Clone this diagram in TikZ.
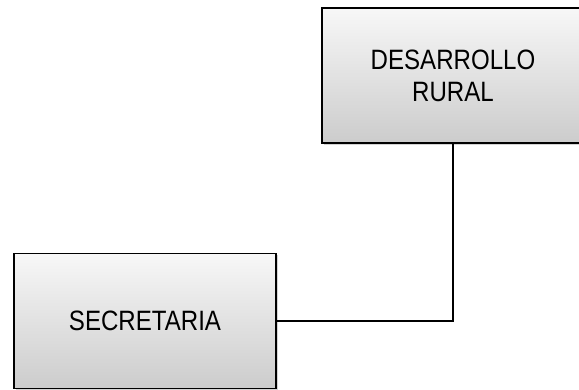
\documentclass[tikz,border=0pt]{standalone}
\usepackage{fontspec}
\setmainfont[FakeStretch=0.86]{Liberation Sans}
\usetikzlibrary{shadows}

\begin{document}
\begin{tikzpicture}[x=1pt, y=-1pt, unitbox/.style={rectangle, draw=black, line width=1.3pt, top color=gray!6, bottom color=gray!40, minimum width=262pt, minimum height=135pt, align=center, font=\fontsize{28}{32}\selectfont, drop shadow={shadow xshift=2pt, shadow yshift=-2pt, opacity=0.35}}]
\useasboundingbox (0,0) rectangle (579,390);
\begin{scope}
\clip (0,0) rectangle (579,390);
\node[unitbox] at (453, 75.5) (desrural) {DESARROLLO\\RURAL};
\node[unitbox] at (145, 321) (secret) {SECRETARIA};
\draw[line width=1.3pt] (secret.east) -| (desrural.south);
\end{scope}
\end{tikzpicture}
\end{document}
